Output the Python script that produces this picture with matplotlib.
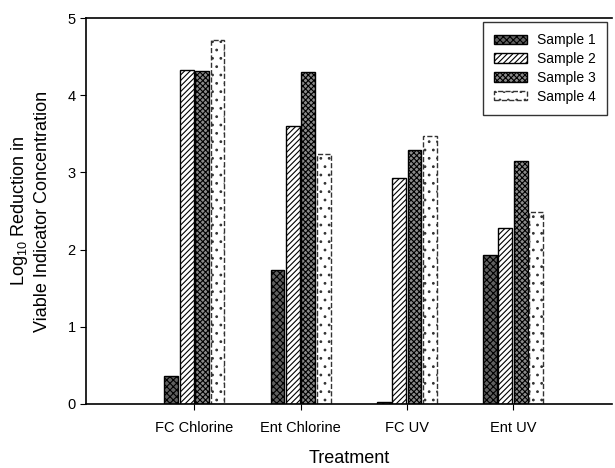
import numpy as np
import matplotlib.pyplot as plt

plt.rcParams['font.family'] = ['Liberation Sans', 'DejaVu Sans']
plt.rcParams['mathtext.fontset'] = 'custom'
plt.rcParams['mathtext.rm'] = 'Liberation Sans'
plt.rcParams['hatch.linewidth'] = 0.8

treatments = ["FC Chlorine", "Ent Chlorine", "FC UV", "Ent UV"]
samples = ["Sample 1", "Sample 2", "Sample 3", "Sample 4"]
sample1 = [0.36, 1.74, 0.03, 1.93]
sample2 = [4.33, 3.60, 2.93, 2.28]
sample3 = [4.32, 4.30, 3.29, 3.15]
sample4 = [4.71, 3.24, 3.47, 2.49]
values = [sample1, sample2, sample3, sample4]

styles = [
    dict(facecolor="#606060", hatch="xxxxx", edgecolor="black", linestyle="-"),
    dict(facecolor="white", hatch="//////", edgecolor="black", linestyle="-"),
    dict(facecolor="#8a8a8a", hatch="xxxxxx", edgecolor="black", linestyle="-"),
    dict(facecolor="white", hatch="..", edgecolor="#333333", linestyle="--"),
]

fig = plt.figure(figsize=(6.15, 4.68), dpi=100)
ax = fig.add_axes([0.1398, 0.1368, 0.855, 0.8247])

x = np.arange(1, len(treatments) + 1)
width = 0.13
pitch = 0.145
for i, (vals, st) in enumerate(zip(values, styles)):
    ax.bar(x + (i - 1.5) * pitch, vals, width, linewidth=1.0, label=samples[i], **st)

ax.set_xlim(-0.02, 4.93)
ax.set_ylim(0, 5)
ax.set_yticks(range(6))
ax.set_xticks(x)
ax.set_xticklabels(treatments, fontsize=10.5)
ax.tick_params(axis="y", labelsize=10.5, direction="out", length=4)
ax.tick_params(axis="x", direction="out", length=4, pad=8)
ax.spines["right"].set_visible(False)
for s in ["left", "bottom", "top"]:
    ax.spines[s].set_linewidth(1.2)

ax.set_xlabel("Treatment", fontsize=13, labelpad=11)
ax.set_ylabel("Log$_{10}$ Reduction in\nViable Indicator Concentration", fontsize=13,
              linespacing=1.35)
ax.yaxis.set_label_coords(-0.066, 0.5)

leg = ax.legend(loc="upper right", bbox_to_anchor=(0.9905, 0.9896), fontsize=10,
                frameon=True, fancybox=False, edgecolor="black", handlelength=2.4,
                handleheight=0.65, labelspacing=0.35, borderpad=0.8, handletextpad=0.7,
                borderaxespad=0)
leg.get_frame().set_linewidth(1.0)

plt.savefig("out.png", dpi=100)
